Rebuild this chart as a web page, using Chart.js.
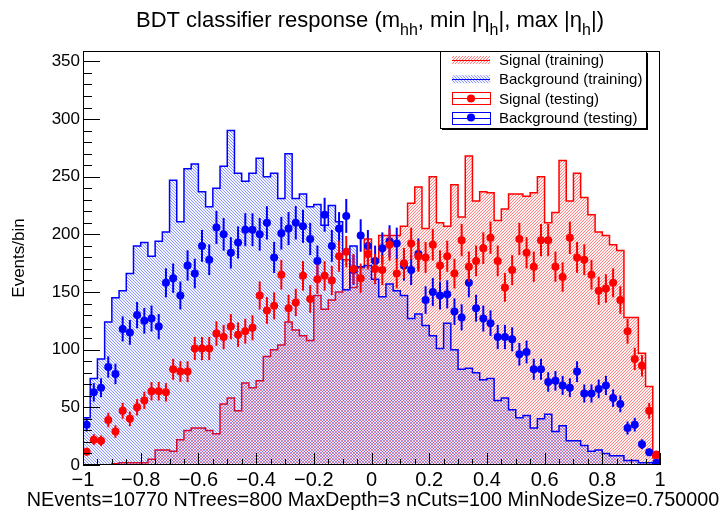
<!DOCTYPE html>
<html>
<head>
<meta charset="utf-8">
<script src="https://cdn.jsdelivr.net/npm/chart.js@4.4.1/dist/chart.umd.min.js"></script>
<style>
  html, body { margin: 0; padding: 0; background: #fff; }
  #wrap { width: 726px; height: 517px; }
</style>
</head>
<body>
<div id="wrap"><canvas id="bdtChart" width="726" height="517"></canvas></div>
<script>
// histogram range: 80 bins between -1 and 1
const xMin = -1, xMax = 1, nBins = 80;

// training histograms (bin contents, left to right)
const sigTrain = [0, 0, 0, 0, 1, 2, 2, 2, 2, 5, 13, 13, 12, 22, 30, 32, 32, 30, 27, 53,
  58, 47, 71, 67, 73, 94, 100, 104, 124, 117, 112, 108, 147, 135, 143, 150, 178, 154, 171, 196,
  176, 199, 199, 199, 207, 227, 241, 205, 250, 210, 207, 243, 215, 268, 229, 237, 236, 212, 222, 235,
  235, 233, 236, 250, 210, 219, 264, 229, 253, 232, 217, 202, 199, 191, 186, 128, 128, 97, 68, 6];
const bkgTrain = [41, 75, 92, 124, 145, 151, 166, 190, 193, 181, 194, 202, 247, 211, 257, 261, 237, 224, 240, 259,
  290, 253, 246, 253, 266, 250, 253, 231, 270, 231, 235, 224, 226, 208, 225, 211, 152, 190, 172, 173,
  161, 146, 157, 151, 147, 127, 131, 121, 112, 101, 123, 100, 83, 84, 80, 74, 75, 56, 58, 48,
  41, 43, 32, 40, 44, 29, 34, 21, 21, 17, 12, 13, 10, 8, 8, 4, 4, 2, 2, 1];

// testing histograms (bin contents, drawn as points with errors)
const sigTest = [11.5, 22, 21, 39, 29, 47, 40, 50, 56, 64, 64, 63, 83, 81, 81, 101, 101, 101, 114, 111,
  120, 113, 116, 119, 147, 134, 138, 165, 136, 141, 164, 144, 161, 164, 160, 181, 185, 170, 162, 183,
  170, 169, 191, 166, 175, 192, 181, 180, 191, 173, 181, 166, 195, 172, 177, 188, 197, 177, 154, 169,
  196, 184, 172, 195, 195, 172, 163, 197, 180, 178, 165, 151, 153, 158, 143, 116, 92, 86, 47, 9];
const bkgTest = [35, 63, 67, 85, 79, 118, 115, 130, 125, 127, 120, 158, 162, 147, 173, 166, 190, 178, 206, 200,
  184, 193, 204, 204, 200, 210, 180, 201, 205, 210, 207, 196, 177, 217, 190, 205, 216, 169, 199, 190,
  177, 188, 194, 192, 173, 169, 183, 143, 150, 147, 148, 133, 128, 158, 136, 127, 123, 111, 111, 109,
  96, 98, 83, 83, 72, 73, 69, 67, 81, 62, 62, 66, 69, 58, 53, 32, 35, 18, 11, 2];
const errScale = 1.0; // error bar = errScale * sqrt(content)

const yMax = 359;
const xLabelStep = 0.2, xMinorStep = 0.05;
const yLabelStep = 50, yMinorStep = 10;

const titleParts = [
  { t: 'BDT classifier response (m' }, { t: 'hh', sub: true }, { t: ', min |η' }, { t: 'h', sub: true },
  { t: '|, max |η' }, { t: 'h', sub: true }, { t: '|)' }
];
const xTitle = 'NEvents=10770 NTrees=800 MaxDepth=3 nCuts=100 MinNodeSize=0.750000';
const yTitle = 'Events/bin';
const legendItems = [
  { label: 'Signal (training)', color: '#ff0000', kind: 'hatchR' },
  { label: 'Background (training)', color: '#0000ff', kind: 'hatchB' },
  { label: 'Signal (testing)', color: '#ff0000', kind: 'point' },
  { label: 'Background (testing)', color: '#0000ff', kind: 'point' }
];

const FONT = '"Liberation Sans", Arial, Helvetica, sans-serif';
const binW = (xMax - xMin) / nBins;

// step histogram: point at every left edge, then closing points at the right edge
function stepData(vals) {
  const pts = [{ x: xMin, y: 0 }];
  vals.forEach((v, i) => pts.push({ x: xMin + i * binW, y: v }));
  pts.push({ x: xMax, y: vals[vals.length - 1] });
  pts.push({ x: xMax, y: 0 });
  return pts;
}
function pointData(vals) {
  return vals.map((v, i) => ({ x: xMin + (i + 0.5) * binW, y: v }));
}

// diagonal hatch tile: line pixels + a faint tint in the gaps
function hatch(line, tint, dir) {
  const n = 3;
  const c = document.createElement('canvas');
  c.width = n; c.height = n;
  const g = c.getContext('2d');
  g.fillStyle = tint;
  g.fillRect(0, 0, n, n);
  for (let i = 0; i < n; i++) {
    const px = dir > 0 ? n - 1 - i : i;
    g.clearRect(px, i, 1, 1);
    g.fillStyle = line;
    g.fillRect(px, i, 1, 1);
  }
  return g.createPattern(c, 'repeat');
}
const redHatch = hatch('rgba(255,20,20,0.52)', 'rgba(255,60,60,0.07)', 1);
const blueHatch = hatch('rgba(30,50,255,0.5)', 'rgba(60,80,255,0.07)', -1);

// vertical error bars under the testing points
const errorBars = {
  id: 'errorBars',
  beforeDatasetDraw(chart, args) {
    const ds = chart.data.datasets[args.index];
    if (!ds.withErrors) return;
    const y = chart.scales.y, ctx = chart.ctx;
    ctx.save();
    ctx.strokeStyle = ds.borderColor;
    ctx.lineWidth = 2;
    args.meta.data.forEach((pt, i) => {
      const v = ds.data[i].y, e = Math.sqrt(v) * errScale;
      ctx.beginPath();
      ctx.moveTo(pt.x, y.getPixelForValue(Math.max(0, v - e)));
      ctx.lineTo(pt.x, y.getPixelForValue(v + e));
      ctx.stroke();
    });
    ctx.restore();
  }
};

// ROOT style frame with inward ticks, titles and legend box
const rootDecor = {
  id: 'rootDecor',
  afterDatasetsDraw(chart) {
    const { ctx, chartArea: a, scales: { x, y } } = chart;
    ctx.save();
    ctx.strokeStyle = '#000';
    ctx.lineWidth = 1;
    ctx.strokeRect(a.left + 0.5, a.top + 0.5, a.right - a.left - 1, a.bottom - a.top - 1);
    ctx.beginPath();
    for (let v = 0; v <= yMax; v += yMinorStep) {
      const py = Math.round(y.getPixelForValue(v)) + 0.5;
      const len = v % yLabelStep === 0 ? 17 : 9;
      ctx.moveTo(a.left, py); ctx.lineTo(a.left + len, py);
    }
    const nMinor = Math.round((xMax - xMin) / xMinorStep);
    const per = Math.round(xLabelStep / xMinorStep);
    for (let k = 0; k <= nMinor; k++) {
      const px = Math.round(x.getPixelForValue(xMin + k * xMinorStep)) + 0.5;
      const len = k % per === 0 ? 12 : 6;
      ctx.moveTo(px, a.bottom); ctx.lineTo(px, a.bottom - len);
    }
    ctx.stroke();
    ctx.restore();
  },
  afterDraw(chart) {
    const ctx = chart.ctx;
    ctx.save();
    ctx.fillStyle = '#000';
    ctx.textBaseline = 'alphabetic';
    // title with subscripts
    const big = '22px ' + FONT, small = '16px ' + FONT;
    let total = 0;
    titleParts.forEach(p => { ctx.font = p.sub ? small : big; p.w = ctx.measureText(p.t).width; total += p.w; });
    let tx = 370 - total / 2;
    titleParts.forEach(p => {
      ctx.font = p.sub ? small : big;
      ctx.fillText(p.t, tx, p.sub ? 35 : 27);
      tx += p.w;
    });

    // x axis title (wider than the frame, so not a Chart.js scale title)
    ctx.font = '19.8px ' + FONT;
    ctx.textAlign = 'center';
    ctx.fillText(xTitle, 373, 506);
    ctx.textAlign = 'left';

    // legend box
    const bx = 440, by = 51, bw = 206, bh = 77;
    ctx.fillStyle = '#fff';
    ctx.fillRect(bx, by, bw, bh);
    ctx.fillStyle = '#000';
    ctx.fillRect(bx + 2, by + bh, bw, 2);
    ctx.fillRect(bx + bw, by + 2, 2, bh);
    ctx.strokeStyle = '#000';
    ctx.lineWidth = 1;
    ctx.strokeRect(bx + 0.5, by + 0.5, bw, bh);
    ctx.font = '15px ' + FONT;
    ctx.textBaseline = 'middle';
    legendItems.forEach((it, i) => {
      const cy = 60 + i * 19.2;
      const sx = 452, sw = 38;
      if (it.kind === 'point') {
        ctx.strokeStyle = it.color;
        ctx.lineWidth = 1;
        ctx.strokeRect(sx + 0.5, Math.round(cy - 6) + 0.5, sw, 12);
        ctx.beginPath();
        ctx.moveTo(sx, Math.round(cy) + 0.5); ctx.lineTo(sx + sw, Math.round(cy) + 0.5);
        ctx.stroke();
        ctx.fillStyle = it.color;
        ctx.beginPath(); ctx.arc(sx + sw / 2, cy, 4, 0, Math.PI * 2); ctx.fill();
      } else {
        ctx.fillStyle = it.kind === 'hatchR' ? redHatch : blueHatch;
        ctx.fillRect(sx, cy - 4, sw, 8);
        ctx.strokeStyle = it.color;
        ctx.lineWidth = 1;
        ctx.beginPath();
        ctx.moveTo(sx, Math.round(cy) + 0.5); ctx.lineTo(sx + sw, Math.round(cy) + 0.5);
        ctx.stroke();
      }
      ctx.fillStyle = '#000';
      ctx.fillText(it.label, 499, cy + 1);
    });
    ctx.restore();
  }
};

function fmtX(v) {
  const r = Math.round(v * 10) / 10;
  return r === 0 ? '0' : String(r).replace('-', '\u2212');
}

new Chart(document.getElementById('bdtChart').getContext('2d'), {
  type: 'line',
  data: {
    datasets: [
      { label: 'Signal (testing)', data: pointData(sigTest), showLine: false, withErrors: true,
        borderColor: '#ff0000', backgroundColor: '#ff0000', pointRadius: 4, pointBorderWidth: 0, pointHoverRadius: 4 },
      { label: 'Background (testing)', data: pointData(bkgTest), showLine: false, withErrors: true,
        borderColor: '#0000ff', backgroundColor: '#0000ff', pointRadius: 4, pointBorderWidth: 0, pointHoverRadius: 4 },
      { label: 'Background (training)', data: stepData(bkgTrain), stepped: 'before', fill: 'origin',
        borderColor: '#0000ff', backgroundColor: blueHatch, borderWidth: 1.5, pointRadius: 0 },
      { label: 'Signal (training)', data: stepData(sigTrain), stepped: 'before', fill: 'origin',
        borderColor: '#ff0000', backgroundColor: redHatch, borderWidth: 1.5, pointRadius: 0 }
    ]
  },
  options: {
    responsive: false,
    animation: false,
    devicePixelRatio: 1,
    layout: { padding: { top: 51, right: 66, left: 0, bottom: 0 } },
    plugins: { legend: { display: false }, title: { display: false }, tooltip: { enabled: false } },
    scales: {
      x: {
        type: 'linear', min: xMin, max: xMax,
        grid: { display: false, drawTicks: false }, border: { display: false },
        ticks: { stepSize: xLabelStep, padding: 3, color: '#000', maxRotation: 0, autoSkip: false,
          font: { family: FONT, size: 20 }, callback: fmtX },
        afterFit: s => { s.height = 52; }
      },
      y: {
        type: 'linear', min: 0, max: yMax,
        grid: { display: false, drawTicks: false }, border: { display: false },
        ticks: { stepSize: yLabelStep, padding: 3, color: '#000', includeBounds: false,
          font: { family: FONT, size: 17 } },
        title: { display: true, text: yTitle, color: '#000', font: { family: FONT, size: 17 }, padding: { top: 9, bottom: 0 } },
        afterFit: s => { s.width = 83; }
      }
    }
  },
  plugins: [errorBars, rootDecor]
});
</script>
</body>
</html>
